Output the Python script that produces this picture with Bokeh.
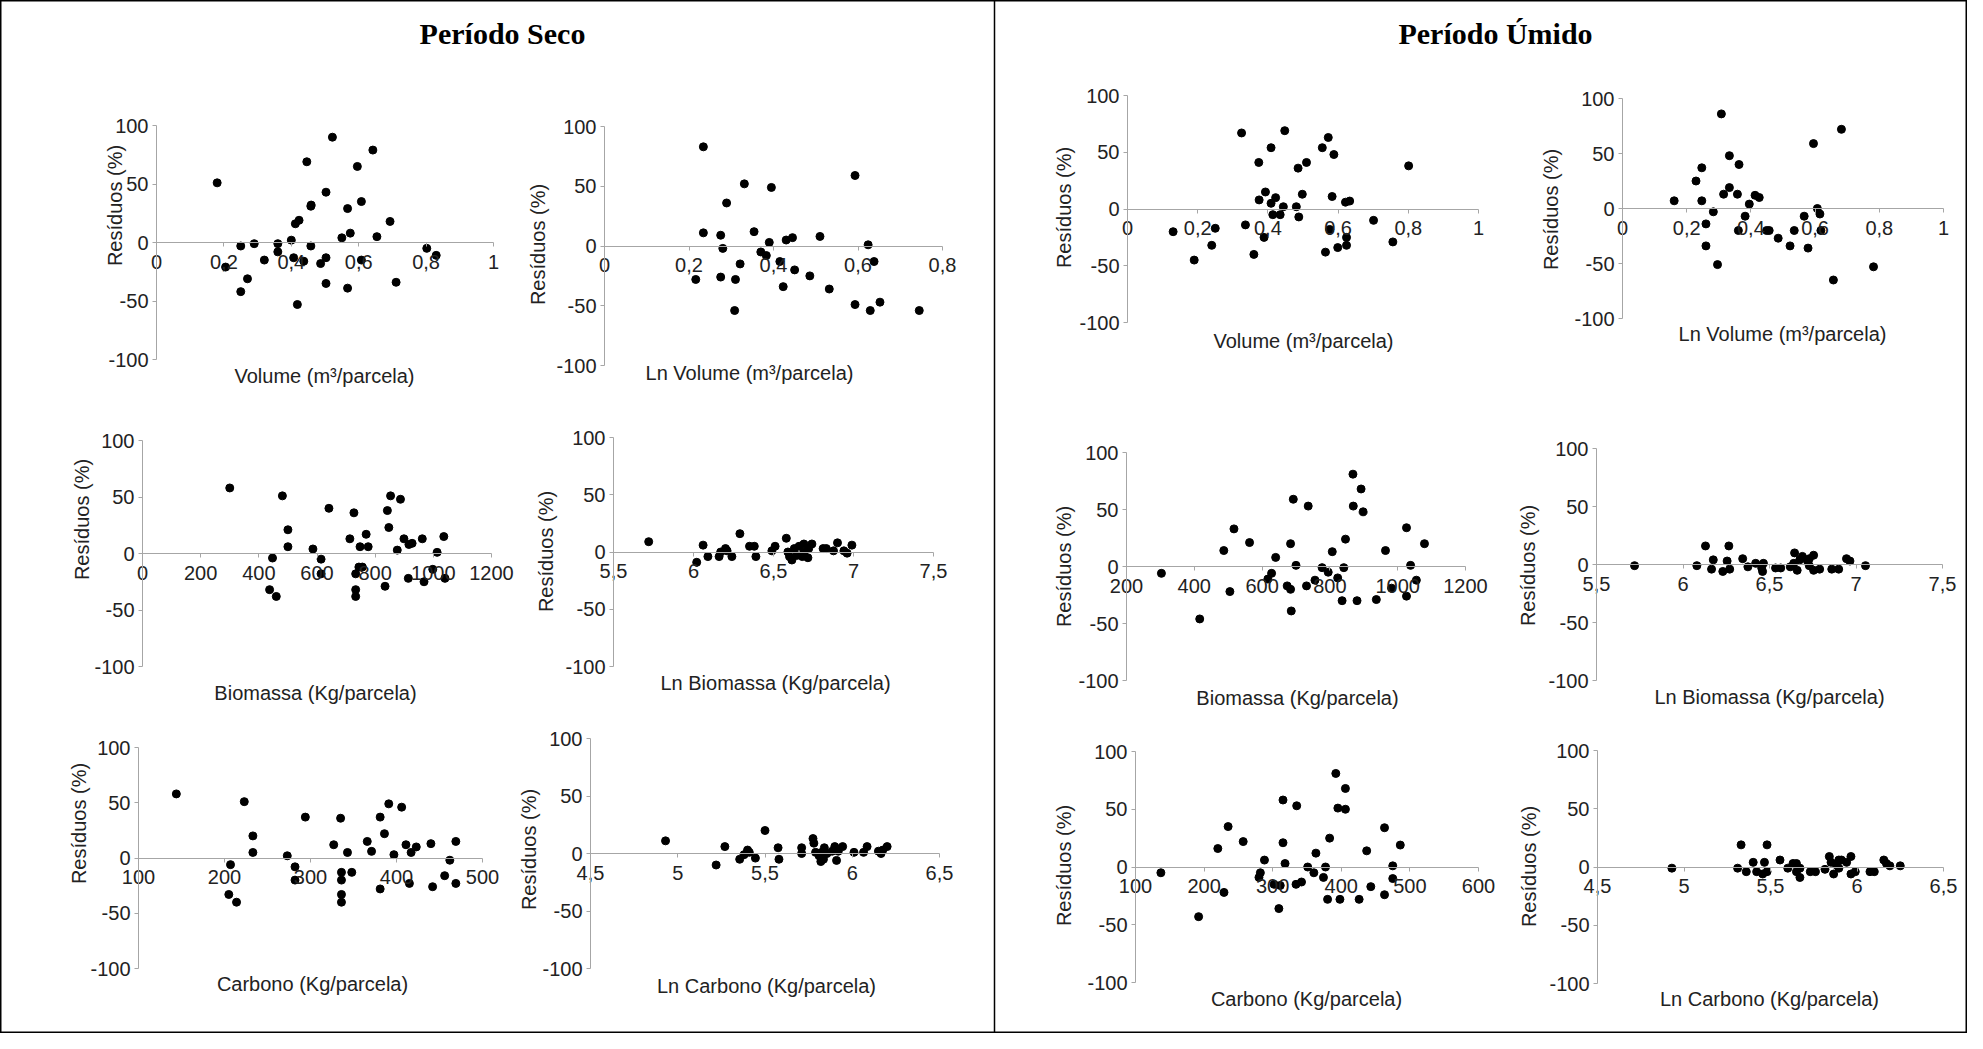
from math import pi
from bokeh.plotting import figure
from bokeh.models import (Range1d, LinearAxis, FixedTicker, CustomJSTickFormatter,
                          Label, Span)
from bokeh.embed import file_html
from bokeh.resources import INLINE

# ---------------- data ----------------
residuo_ticks = [-100, -50, 0, 50, 100]

seco_vol_ticks = [0, 0.2, 0.4, 0.6, 0.8, 1]
seco_vol_x = [0.18, 0.205, 0.25, 0.25, 0.27, 0.29, 0.32, 0.36, 0.36, 0.40, 0.407, 0.412, 0.423,
              0.418, 0.437, 0.446, 0.458, 0.459, 0.458, 0.487, 0.503, 0.503, 0.503, 0.522, 0.55,
              0.567, 0.567, 0.575, 0.596, 0.608, 0.608, 0.642, 0.654, 0.693, 0.711, 0.802, 0.83]
seco_vol_y = [51, -21, -3, -42, -31, -1, -15, -1, -8, 2, -13, 16, 19, -53, -16, 69, 31, 32, -3,
              -18, 43, -13, -35, 90, 4, 29, -39, 8, 65, 35, -15, 79, 5, 18, -34, -5, -11]

seco_lnvol_ticks = [0, 0.2, 0.4, 0.6, 0.8]
seco_lnvol_x = [0.216, 0.234, 0.234, 0.275, 0.275, 0.28, 0.289, 0.308, 0.31, 0.321, 0.331, 0.354,
                0.37, 0.383, 0.39, 0.395, 0.415, 0.423, 0.43, 0.445, 0.45, 0.486, 0.51, 0.532,
                0.593, 0.593, 0.624, 0.629, 0.638, 0.652, 0.745]
seco_lnvol_y = [-28, 83, 11, 9, -26, -2, 36, -54, -28, -15, 52, 12, -5, -8, 3, 49, -13, -34, 5, 7,
                -20, -25, 8, -36, 59, -49, 1, -54, -13, -47, -54]

seco_bio_ticks = [0, 200, 400, 600, 800, 1000, 1200]
seco_bio_x = [300, 437, 447, 460, 481, 500, 500, 586, 614, 614, 641, 713, 727, 733, 733, 733, 744,
              748, 756, 769, 776, 834, 842, 847, 853, 876, 887, 899, 914, 916, 927, 962, 968,
              1013, 998, 1036, 1040]
seco_bio_y = [58, -32, -4, -38, 51, 21, 6, 4, -5, -18, 40, 13, 36, -18, -32, -38, -12, 6, -12, 17,
              6, -29, 38, 23, 51, 3, 48, 13, -22, 8, 9, 13, -25, 1, -14, 15, -22]

seco_lnbio_ticks = [5.5, 6, 6.5, 7, 7.5]
seco_lnbio_x = [5.72, 6.02, 6.06, 6.09, 6.16, 6.17, 6.2, 6.24, 6.29, 6.35, 6.38, 6.39, 6.49, 6.51,
                6.58, 6.59, 6.6, 6.615, 6.63, 6.645, 6.66, 6.69, 6.69, 6.715, 6.72, 6.74, 6.81,
                6.83, 6.875, 6.9, 6.94, 6.96, 6.99, 6.68, 6.21]
seco_lnbio_y = [9, -9, 6, -4, -4, 0, 3, -4, 16, 5, 5, -4, 1, 5, 12, 0, -4, -7, 3, -3, 5, 0, 7, -5,
                3, 7, 3, 3, 1, 8, 1, -1, 6, -4, 1]

seco_carb_ticks = [100, 200, 300, 400, 500]
seco_carb_x = [144, 205, 207, 214, 223, 233, 233, 273, 282, 282, 294, 327, 335, 336, 336, 336, 336,
               343, 348, 366, 371, 381, 381, 386, 391, 397, 406, 411, 415, 417, 423, 440, 442,
               456, 462, 469, 469]
seco_carb_y = [58, -33, -6, -40, 51, 20, 5, 2, -8, -20, 37, 12, 36, -13, -20, -33, -40, 5, -13, 15,
               6, 37, -28, 22, 49, 3, 46, 12, -23, 5, 10, 13, -26, -16, -2, -23, 15]

seco_lncarb_ticks = [4.5, 5, 5.5, 6, 6.5]
seco_lncarb_x = [4.93, 5.22, 5.27, 5.355, 5.38, 5.4, 5.41, 5.445, 5.5, 5.575, 5.58, 5.71, 5.71,
                 5.775, 5.78, 5.79, 5.81, 5.82, 5.835, 5.84, 5.855, 5.885, 5.9, 5.91, 5.92, 5.945,
                 6.01, 6.065, 6.085, 6.15, 6.165, 6.175, 6.2, 5.825]
seco_lncarb_y = [11, -10, 6, -5, -1, 3, 1, -4, 20, 5, -5, 5, 0, 13, 9, 1, -2, -7, -5, 5, 0, 2, 6,
                 -6, 2, 6, 1, 1, 6, 2, 0, 3, 6, 1]

umido_vol_ticks = [0, 0.2, 0.4, 0.6, 0.8, 1]
umido_vol_x = [0.13, 0.19, 0.24, 0.25, 0.325, 0.336, 0.36, 0.374, 0.375, 0.389, 0.393, 0.409,
               0.409, 0.414, 0.422, 0.435, 0.444, 0.448, 0.481, 0.486, 0.488, 0.498, 0.51, 0.555,
               0.564, 0.572, 0.576, 0.583, 0.588, 0.599, 0.621, 0.624, 0.624, 0.633, 0.701,
               0.756, 0.801]
umido_vol_y = [-20, -45, -32, -17, 67, -14, -40, 41, 8, -25, 15, 54, 5, -5, 10, -5, 2, 69, 2, 36,
               -7, 13, 41, 54, -38, 63, -18, 11, 48, -34, 6, -25, -32, 7, -10, -29, 38]

umido_lnvol_ticks = [0, 0.2, 0.4, 0.6, 0.8, 1]
umido_lnvol_x = [0.161, 0.229, 0.247, 0.247, 0.26, 0.26, 0.283, 0.296, 0.308, 0.315, 0.333, 0.333,
                 0.358, 0.363, 0.361, 0.382, 0.395, 0.413, 0.426, 0.449, 0.457, 0.485, 0.522,
                 0.535, 0.566, 0.578, 0.595, 0.607, 0.615, 0.618, 0.657, 0.682, 0.782]
umido_lnvol_y = [7, 25, 37, 7, -14, -34, -3, -51, 86, 13, 48, 19, 13, 40, -20, -7, 4, 12, 10, -20,
                 -20, -27, -34, -20, -7, -36, 59, 0, -5, -20, -65, 72, -53]

umido_bio_ticks = [200, 400, 600, 800, 1000, 1200]
umido_bio_x = [303, 416, 487, 505, 517, 563, 617, 628, 640, 674, 684, 684, 686, 692, 700, 731,
               736, 756, 777, 795, 807, 823, 836, 841, 846, 868, 869, 880, 892, 898, 937, 964,
               982, 1026, 1026, 1038, 1055, 1079]
umido_bio_y = [-6, -46, 14, -22, 33, 21, -11, -6, 8, -17, 20, -20, -39, 59, 1, -17, 53, -12, -1,
               -5, 13, -10, -30, -1, 24, 81, 53, -30, 68, 48, -29, 14, -19, 34, -26, 1, -12, 20]

umido_lnbio_ticks = [5.5, 6, 6.5, 7, 7.5]
umido_lnbio_x = [5.72, 6.08, 6.13, 6.165, 6.175, 6.23, 6.255, 6.265, 6.27, 6.345, 6.375, 6.42,
                 6.455, 6.46, 6.465, 6.535, 6.565, 6.62, 6.64, 6.645, 6.66, 6.675, 6.69, 6.72,
                 6.73, 6.755, 6.755, 6.79, 6.86, 6.9, 6.945, 6.965, 7.055, 6.73]
umido_lnbio_y = [-1, -1, 16, -4, 4, -6, 3, 16, -4, 5, -2, 1, -3, -6, 1, -3, -3, -2, 1, 10, -5, 4,
                 7, 3, 5, -5, 8, -4, -4, -4, 5, 3, -1, -1]

umido_carb_ticks = [100, 200, 300, 400, 500, 600]
umido_carb_x = [137, 192, 220, 229, 235, 257, 280, 282, 288, 302, 309, 311, 315, 315, 318, 334,
                335, 342, 351, 360, 363, 374, 377, 380, 383, 392, 395, 398, 406, 406, 426, 437,
                443, 463, 463, 475, 475, 486]
umido_carb_y = [-5, -43, 16, -22, 35, 22, -9, -5, 6, -15, -36, -16, 58, 21, 3, -15, 53, -13, 0,
                -5, 12, -9, 0, -28, 25, 81, 51, -28, 68, 50, -28, 14, -17, 34, -24, 1, -10, 19]

umido_lncarb_ticks = [4.5, 5, 5.5, 6, 6.5]
umido_lncarb_x = [4.93, 5.31, 5.33, 5.36, 5.4, 5.42, 5.455, 5.465, 5.48, 5.48, 5.555, 5.6, 5.63,
                  5.65, 5.65, 5.67, 5.67, 5.73, 5.76, 5.815, 5.84, 5.85, 5.865, 5.88, 5.895, 5.91,
                  5.94, 5.965, 5.965, 5.99, 6.075, 6.1, 6.155, 6.17, 6.19, 6.25, 5.895]
umido_lncarb_y = [-1, -1, 19, -4, 4, -4, -6, 4, 19, -4, 6, -1, 3, 3, -4, -9, -1, -4, -4, -2, 9, 4,
                  -6, 2, -1, 6, 4, 9, -6, -4, -4, -4, 6, 3, 1, 1, 6]

panel_titles = ["Período Seco", "Período Úmido"]
y_title = "Resíduos (%)"

# ---------------- layout (pixel positions in the picture) ----------------
W, H = 1967, 1033
PX0, PX1 = 0, W
PY0, PY1 = 0, H

# (xlabel, xs, ys, xticks, X0, X1, Ytop, Ybot, ylab_x, ylab_y, xlab_x, xlab_y)
panels = [
    ("Volume (m³/parcela)", seco_vol_x, seco_vol_y, seco_vol_ticks, 156, 493, 125, 359, 114, 205, 324, 375),
    ("Ln Volume (m³/parcela)", seco_lnvol_x, seco_lnvol_y, seco_lnvol_ticks, 604, 942, 126, 365, 537, 244, 749, 372),
    ("Biomassa (Kg/parcela)", seco_bio_x, seco_bio_y, seco_bio_ticks, 142, 491, 440, 666, 81, 519, 315, 692),
    ("Ln Biomassa (Kg/parcela)", seco_lnbio_x, seco_lnbio_y, seco_lnbio_ticks, 613, 933, 437, 666, 545, 551, 775, 682),
    ("Carbono (Kg/parcela)", seco_carb_x, seco_carb_y, seco_carb_ticks, 138, 482, 747, 968, 78, 823, 312, 983),
    ("Ln Carbono (Kg/parcela)", seco_lncarb_x, seco_lncarb_y, seco_lncarb_ticks, 590, 939, 738, 968, 528, 849, 766, 985),
    ("Volume (m³/parcela)", umido_vol_x, umido_vol_y, umido_vol_ticks, 1127, 1478, 95, 322, 1063, 207, 1303, 340),
    ("Ln Volume (m³/parcela)", umido_lnvol_x, umido_lnvol_y, umido_lnvol_ticks, 1622, 1943, 98, 318, 1550, 209, 1782, 333),
    ("Biomassa (Kg/parcela)", umido_bio_x, umido_bio_y, umido_bio_ticks, 1126, 1465, 452, 680, 1063, 566, 1297, 697),
    ("Ln Biomassa (Kg/parcela)", umido_lnbio_x, umido_lnbio_y, umido_lnbio_ticks, 1596, 1942, 448, 680, 1527, 565, 1769, 696),
    ("Carbono (Kg/parcela)", umido_carb_x, umido_carb_y, umido_carb_ticks, 1135, 1478, 751, 982, 1063, 865, 1306, 998),
    ("Ln Carbono (Kg/parcela)", umido_lncarb_x, umido_lncarb_y, umido_lncarb_ticks, 1597, 1943, 750, 983, 1528, 866, 1769, 998),
]

FONT = "Liberation Sans"
AXIS_GRAY = "#a6a6a6"
TXT = "#222222"

p = figure(width=W, height=H, x_range=Range1d(PX0, PX1), y_range=Range1d(PY1, PY0),
           x_axis_location=None, y_axis_location=None, min_border=0,
           toolbar_location=None, output_backend="svg", background_fill_color="white")
p.grid.visible = False
p.outline_line_color = "black"
p.outline_line_width = 2

x_fmt = "return String(Math.round(tick*100)/100).replace('.', ',');"
y_fmt = "return String(Math.round(tick));"

for i, (xlab, xs, ys, xt, X0, X1, Yt, Yb, lx, ly, tx, ty) in enumerate(panels):
    xmin, xmax = xt[0], xt[-1]
    sx = (xmax - xmin) / (X1 - X0)
    sy = 200.0 / (Yb - Yt)
    xn, yn = f"x{i}", f"y{i}"
    p.extra_x_ranges[xn] = Range1d(xmin - (X0 - PX0) * sx, xmax + (PX1 - X1) * sx)
    p.extra_y_ranges[yn] = Range1d(-100 - (PY1 - Yb) * sy, 100 + (Yt - PY0) * sy)

    xa = LinearAxis(x_range_name=xn, y_range_name=yn, fixed_location=0, bounds=(xmin, xmax),
                    ticker=FixedTicker(ticks=xt),
                    formatter=CustomJSTickFormatter(code=x_fmt))
    ya = LinearAxis(x_range_name=xn, y_range_name=yn, fixed_location=xmin, bounds=(-100, 100),
                    ticker=FixedTicker(ticks=residuo_ticks),
                    formatter=CustomJSTickFormatter(code=y_fmt))
    for ax in (xa, ya):
        ax.axis_line_color = AXIS_GRAY
        ax.major_tick_line_color = AXIS_GRAY
        ax.minor_tick_line_color = None
        ax.major_tick_in = 0
        ax.major_tick_out = 4
        ax.major_label_text_font = FONT
        ax.major_label_text_font_size = "20px"
        ax.major_label_text_color = TXT
    xa.major_label_standoff = 8
    ya.major_label_standoff = 4
    p.add_layout(xa, "below")
    p.add_layout(ya, "left")

    p.scatter(xs, ys, x_range_name=xn, y_range_name=yn, size=8, color="black", marker="circle")

    p.add_layout(Label(x=lx, y=ly, text=y_title, angle=pi / 2, text_align="center",
                       text_baseline="middle", text_font=FONT, text_font_size="20px",
                       text_color=TXT))
    p.add_layout(Label(x=tx, y=ty, text=xlab, text_align="center", text_baseline="middle",
                       text_font=FONT, text_font_size="20px", text_color=TXT))

# panel titles and table divider
for tx_, txt in zip([502, 1495], panel_titles):
    p.add_layout(Label(x=tx_, y=33, text=txt, text_align="center", text_baseline="middle",
                       text_font="Liberation Serif", text_font_style="bold",
                       text_font_size="30px", text_color="black"))
p.add_layout(Span(location=994, dimension="height", line_color="black", line_width=1.5))

open("out.html", "w").write(file_html(p, INLINE))
